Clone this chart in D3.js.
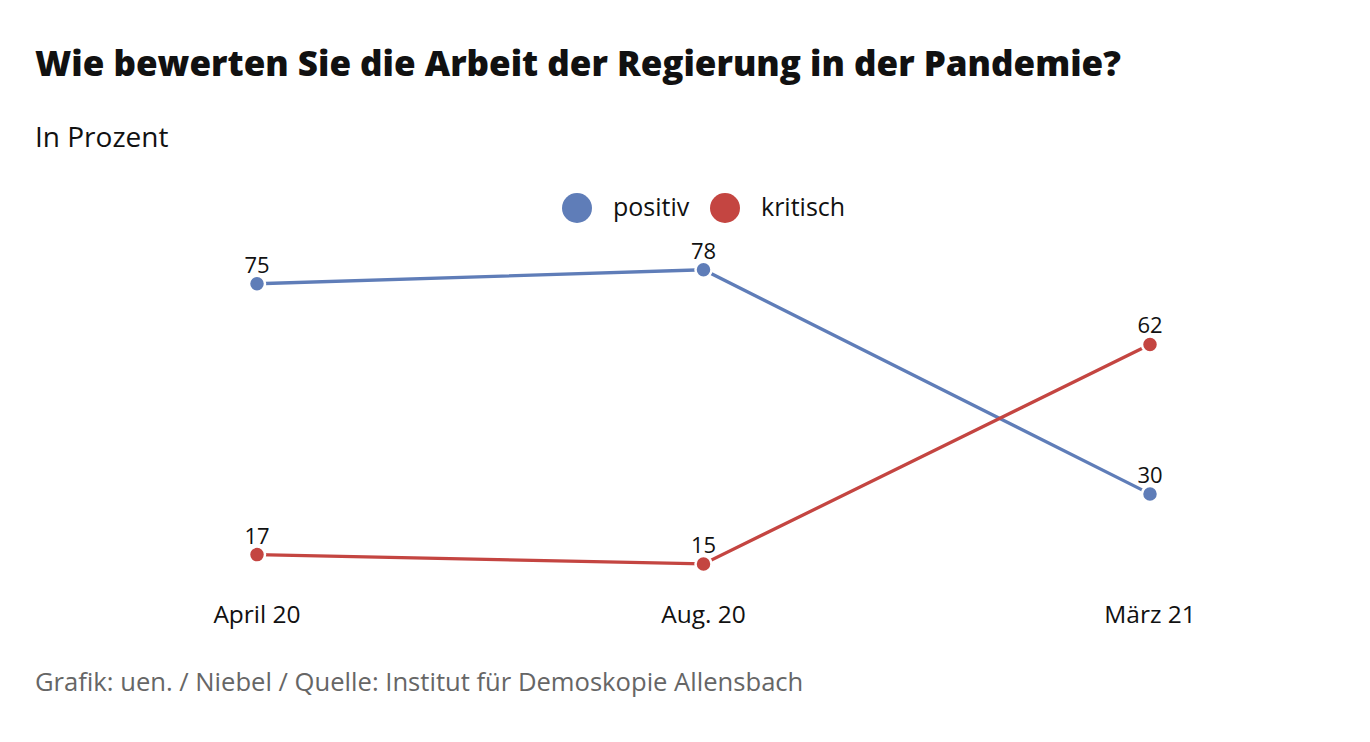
<!DOCTYPE html>
<html>
<head>
<meta charset="utf-8">
<script src="https://cdn.jsdelivr.net/npm/d3@7"></script>
<style>
  body { margin: 0; background: #fff; }
  text { font-family: 'Open Sans', sans-serif; }
</style>
</head>
<body>
<div id="chart"></div>
<script>
// data
const periods = ['April 20', 'Aug. 20', 'März 21']
const positiv = [75, 78, 30]
const kritisch = [17, 15, 62]
const seriesNames = ['positiv', 'kritisch']
const colors = ['#5f7db8', '#c44541']

const width = 1370,
  height = 742

let svg = d3
  .select('#chart')
  .append('svg')
  .attr('width', width)
  .attr('height', height)

svg
  .append('text')
  .attr('x', 35)
  .attr('y', 76)
  .style('font-size', '35px')
  .style('font-weight', 800)
  .style('fill', '#111')
  .text('Wie bewerten Sie die Arbeit der Regierung in der Pandemie?')

svg
  .append('text')
  .attr('x', 35)
  .attr('y', 147)
  .style('font-size', '28px')
  .style('fill', '#111')
  .text('In Prozent')

// legend
let legend = svg
  .append('g')
  .selectAll('g')
  .data(seriesNames)
  .enter()
  .append('g')
  .attr('transform', (d, i) => 'translate(' + (577 + i * 148) + ',208)')
legend
  .append('circle')
  .attr('r', 15)
  .style('fill', (d, i) => colors[i])
legend
  .append('text')
  .attr('x', 36)
  .attr('y', 8)
  .style('font-size', '25px')
  .style('fill', '#111')
  .text(d => d)

let x = d3
  .scalePoint()
  .domain(periods)
  .range([257, 1150])
let y = d3
  .scaleLinear()
  .domain([0, 100])
  .range([634, 167])

let series = [positiv, kritisch]
let line = d3
  .line()
  .x((d, i) => x(periods[i]))
  .y(d => y(d))

let groups = svg
  .append('g')
  .selectAll('g.series')
  .data(series)
  .enter()
  .append('g')
  .classed('series', true)

groups
  .append('path')
  .attr('d', d => line(d))
  .style('fill', 'none')
  .style('stroke', (d, i) => colors[i])
  .style('stroke-width', 3.3)

groups.each(function(vals, si) {
  let g = d3.select(this)
  g.selectAll('circle')
    .data(vals)
    .enter()
    .append('circle')
    .attr('cx', (d, i) => x(periods[i]))
    .attr('cy', d => y(d))
    .attr('r', 8)
    .style('fill', colors[si])
    .style('stroke', '#fff')
    .style('stroke-width', 2.5)
  g.selectAll('text')
    .data(vals)
    .enter()
    .append('text')
    .attr('x', (d, i) => x(periods[i]))
    .attr('y', d => y(d) - 11)
    .attr('text-anchor', 'middle')
    .style('font-size', '22px')
    .style('fill', '#111')
    .text(d => d)
})

// x axis labels
svg
  .append('g')
  .selectAll('text')
  .data(periods)
  .enter()
  .append('text')
  .attr('x', d => x(d))
  .attr('y', 623)
  .attr('text-anchor', 'middle')
  .style('font-size', '24.5px')
  .style('fill', '#111')
  .text(d => d)

svg
  .append('text')
  .attr('x', 35)
  .attr('y', 691)
  .style('font-size', '25.6px')
  .style('fill', '#666')
  .text('Grafik: uen. / Niebel / Quelle: Institut für Demoskopie Allensbach')
</script>
</body>
</html>
